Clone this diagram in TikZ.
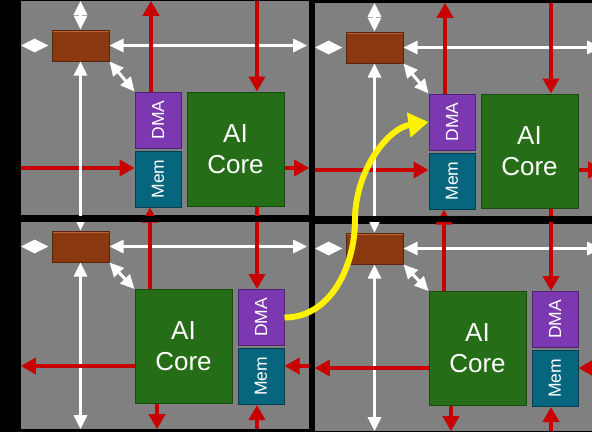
\documentclass[tikz,border=0pt]{standalone}
\usepackage{fontspec}
\setmainfont{Liberation Sans}
\usepackage{graphicx}
\usepackage{tikz}
\usetikzlibrary{arrows.meta, positioning}
\definecolor{tilegray}{HTML}{808080}
\definecolor{routerbrown}{HTML}{8A3810}
\definecolor{routeredge}{HTML}{5A230A}
\definecolor{routerlight}{HTML}{B8643A}
\definecolor{dmapurple}{HTML}{7B38B0}
\definecolor{dmaedge}{HTML}{4E2275}
\definecolor{memteal}{HTML}{06667E}
\definecolor{memedge}{HTML}{03404F}
\definecolor{coregreen}{HTML}{256D17}
\definecolor{coreedge}{HTML}{1A4A10}
\definecolor{linkred}{HTML}{C80000}

\begin{document}
\begin{tikzpicture}[
  x=1pt, y=-1pt, inner sep=0pt,
  tile/.style={fill=tilegray, minimum width=288pt},
  router/.style={fill=routerbrown, draw=routeredge, line width=1pt, minimum width=57pt, minimum height=31pt,
    path picture={\draw[routerlight, line width=1.5pt] ([yshift=-1pt]path picture bounding box.north west) -- ([yshift=-1pt]path picture bounding box.north east);}},
  core/.style={fill=coregreen, draw=coreedge, line width=1pt, minimum width=97pt, minimum height=114pt, text=white, align=center, font=\fontsize{26}{31}\selectfont},
  dma/.style={fill=dmapurple, draw=dmaedge, line width=1pt, minimum width=46pt, minimum height=56pt, text=white, font=\fontsize{17.5}{20}\selectfont},
  mem/.style={dma, fill=memteal, draw=memedge},
  wa/.style={{Triangle[length=14pt,width=13pt]}-{Triangle[length=14pt,width=13pt]}, draw=white, line width=3pt},
  ra/.style={-{Triangle[length=15pt,width=16pt]}, draw=linkred, line width=4pt},
  ya/.style={-{Triangle[length=20pt,width=24pt]}, draw=yellow, line width=6pt}
]
\useasboundingbox (0,0) rectangle (592,432);
\fill[black] (0,0) rectangle (592,432);
\clip (0,0) rectangle (592,432);
\foreach \i/\dx/\dy in {1/0/0, 2/294/2} {
  \begin{scope}[shift={(\dx,\dy)}]
    \node[tile, minimum height=214pt] (t\i) at (165,108) {};
    \node[router] (r\i) at (80.5,45.5) {};
    \node[core] (c\i) at (235.5,149) {AI\\Core};
    \node[dma, below left=0pt and 5pt of c\i.north west] (d\i) {\rotatebox{90}{DMA}};
    \node[mem, below=2pt of d\i] (m\i) {\rotatebox{90}{Mem}};
    \coordinate (n\i) at (151,0);
    \coordinate (s\i) at (257,0);
    \coordinate (e\i) at (0,168);
  \end{scope}
  \draw[wa] (r\i.north) -- (r\i.north |- t\i.north);
  \draw[wa, shorten <=3pt] (r\i.west) -- (r\i.west -| t\i.west);
  \draw[wa, shorten >=2pt] (r\i.east) -- (r\i.east -| t\i.east);
  \draw[wa] (r\i.south east) -- (d\i.north west);
  \draw[ra] (d\i.north -| n\i) -- (t\i.north -| n\i);
  \draw[ra] (t\i.north -| s\i) -- (c\i.north -| s\i);
  \draw[ra] (t\i.west |- e\i) -- (m\i.west |- e\i);
  \draw[ra] (c\i.east |- e\i) -- (t\i.east |- e\i);
}
\foreach \i/\dx/\dy in {3/0/0, 4/294/2} {
  \begin{scope}[shift={(\dx,\dy)}]
    \node[tile, minimum height=207pt] (t\i) at (165,325.5) {};
    \node[router] (r\i) at (80.5,246.5) {};
    \node[core] (c\i) at (183.5,346.5) {AI\\Core};
    \node[dma, below right=0pt and 5pt of c\i.north east] (d\i) {\rotatebox{90}{DMA}};
    \node[mem, below=2pt of d\i] (m\i) {\rotatebox{90}{Mem}};
    \coordinate (n\i) at (150,0);
    \coordinate (s\i) at (257,0);
    \coordinate (o\i) at (157,0);
    \coordinate (w\i) at (0,366);
  \end{scope}
  \draw[wa, shorten <=3pt] (r\i.west) -- (r\i.west -| t\i.west);
  \draw[wa, shorten >=2pt] (r\i.east) -- (r\i.east -| t\i.east);
  \draw[wa] (r\i.south) -- (r\i.south |- t\i.south);
  \draw[wa] (r\i.south east) -- (c\i.north west);
  \draw[ra] (c\i.west |- w\i) -- (t\i.west |- w\i);
  \draw[ra] (t\i.east |- w\i) -- (m\i.east |- w\i);
  \draw[ra] (c\i.south -| o\i) -- (t\i.south -| o\i);
  \draw[ra] (t\i.south -| s\i) -- (m\i.south -| s\i);
}
\foreach \a/\b in {1/3, 2/4} {
  \draw[wa] (r\a.south) -- (r\b.north);
  \draw[ra] (c\b.north -| n\b) -- (m\a.south -| n\b);
  \draw[ra] (c\a.south -| s\a) -- (d\b.north -| s\a);
}
\fill[black] (21,215.5) rectangle (592,222);
\fill[black] (309,0) rectangle (315,432);
\coordinate (yb) at (355,220);
\draw[ya] (d3.east) .. controls +(47,0) and +(0,45) .. (yb) .. controls +(0,-50) and +(-40,6) .. (d2.west);
\end{tikzpicture}
\end{document}
